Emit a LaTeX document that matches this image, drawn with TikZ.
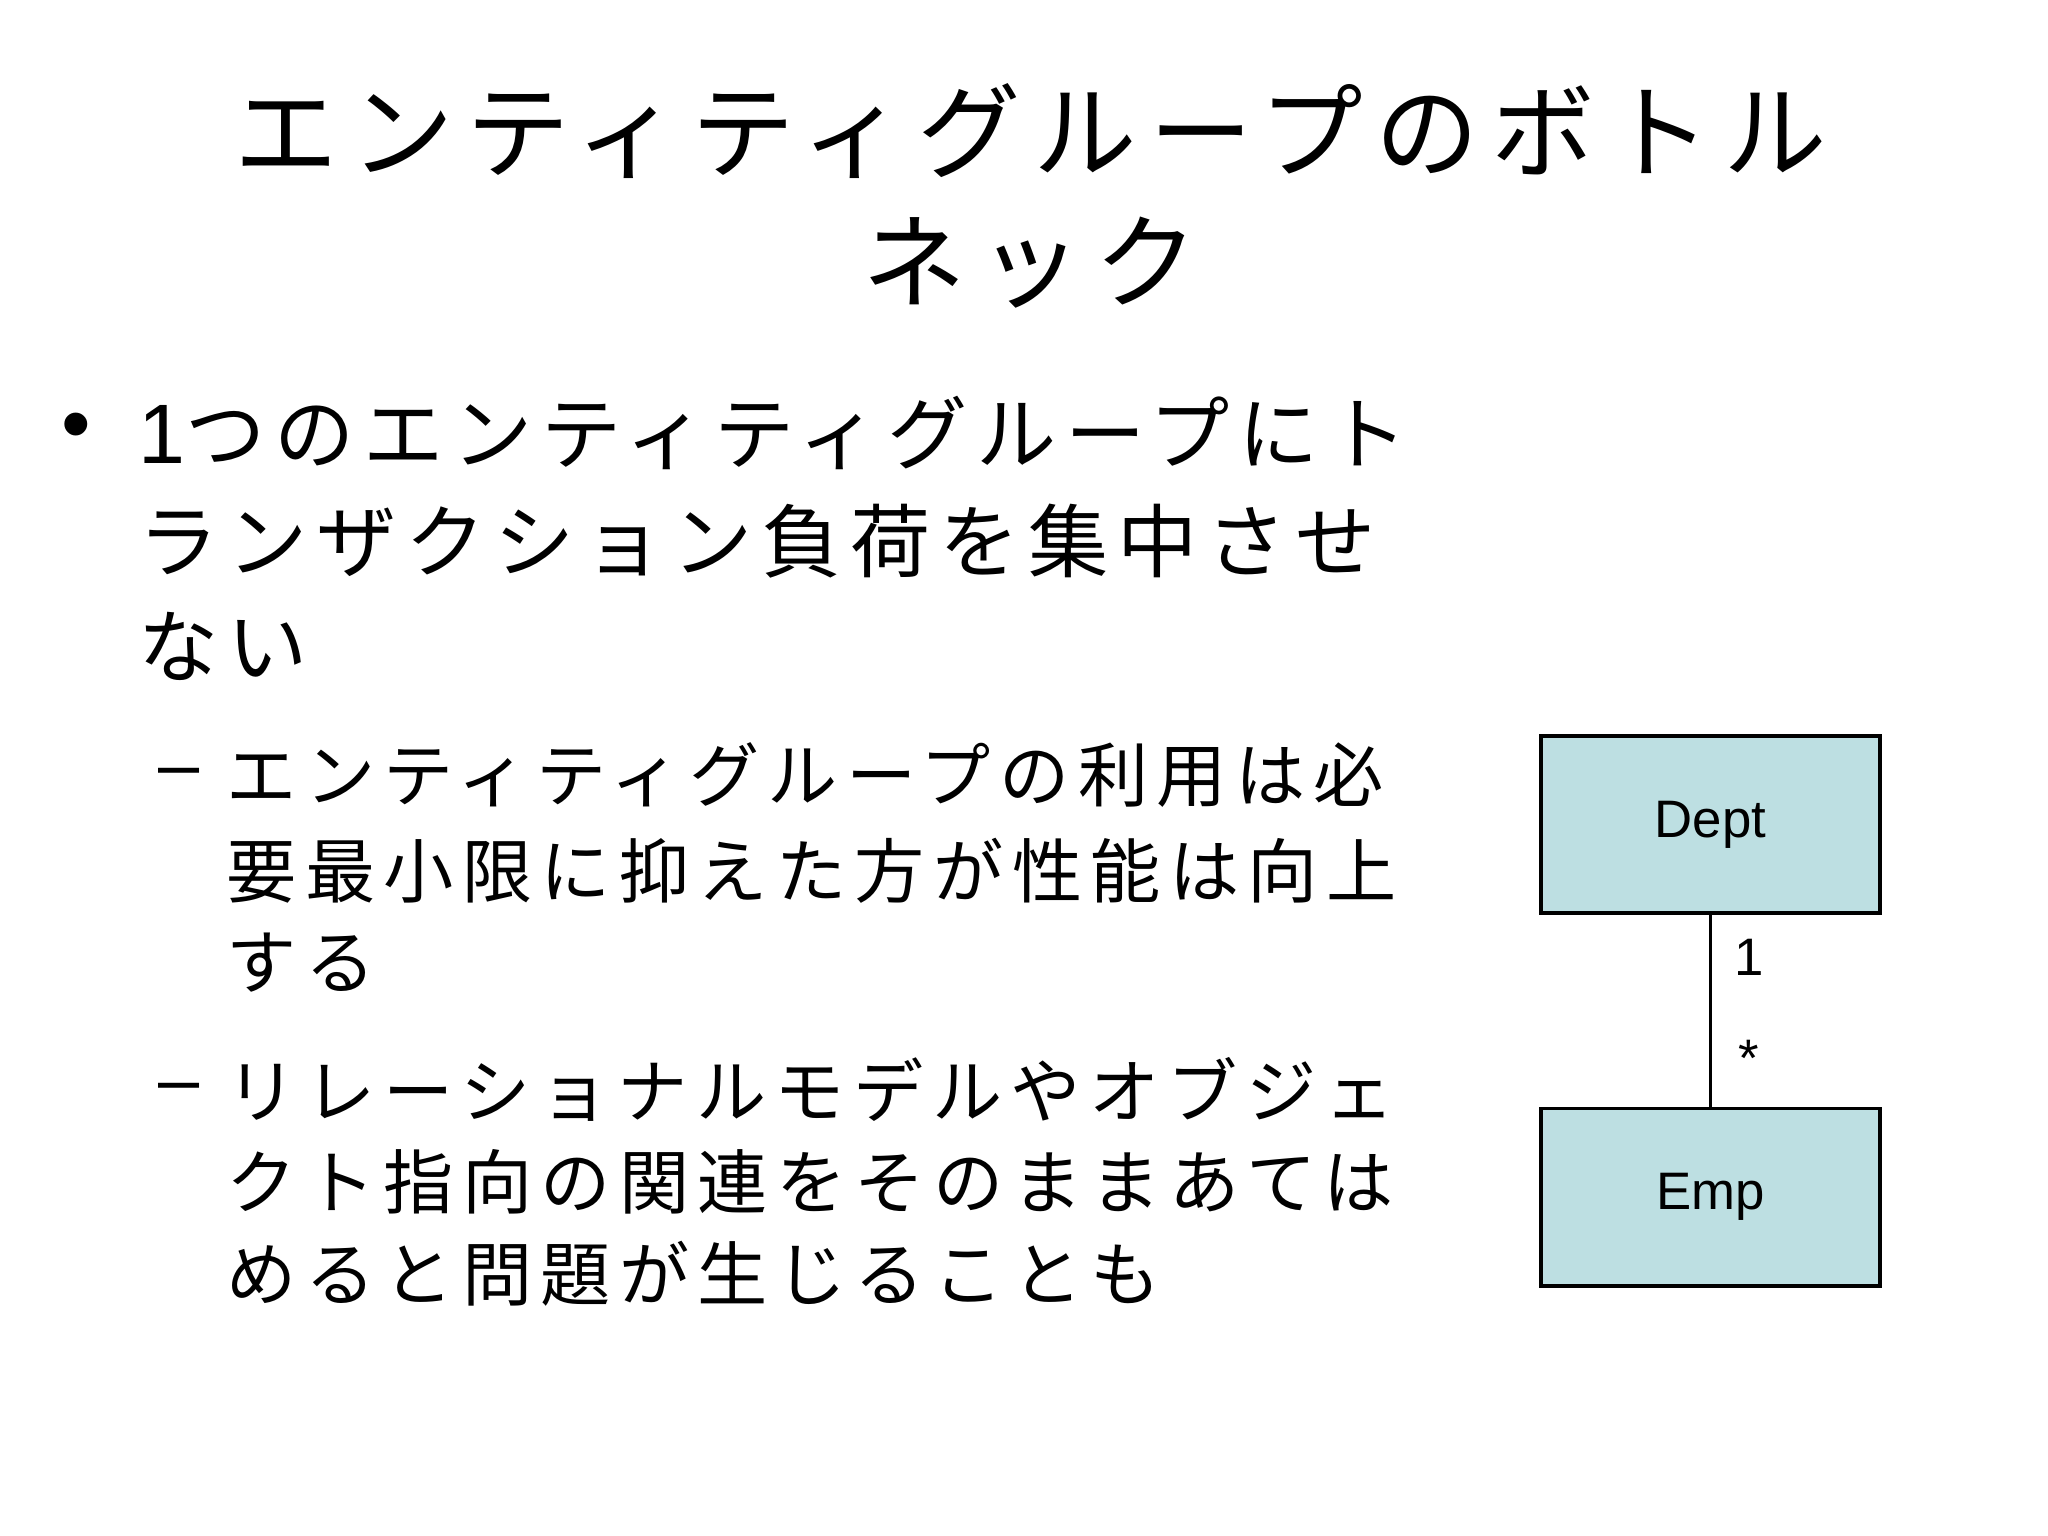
\documentclass[tikz,border=0pt]{standalone}
\usepackage{fontspec}
\setmainfont{Liberation Sans}
\newfontfamily\cjk{Noto Sans CJK JP}[Scale=0.95]
\begin{document}
\begin{tikzpicture}[x=0.013128cm,y=-0.013128cm,
  title/.style={font=\fontsize{31}{36}\selectfont\cjk\addfontfeature{LetterSpace=12}},
  lvl1/.style={anchor=west,inner sep=0,font=\fontsize{24}{28}\selectfont\cjk\addfontfeature{LetterSpace=11}},
  lvl2/.style={anchor=west,inner sep=0,font=\fontsize{21}{24}\selectfont\cjk\addfontfeature{LetterSpace=12}},
  box/.style={draw=black,fill=bx,minimum width=3.387cm,minimum height=1.772cm,inner sep=0,line width=1pt,font=\fontsize{15}{18}\selectfont},
  lbl/.style={font=\fontsize{15}{18}\selectfont,inner sep=0}]
\definecolor{bx}{HTML}{BDDFE2}
\useasboundingbox (0,0) rectangle (1560,1170);
\node[title] (t1) at (785,100) {エンティティグループのボトル};
\node[title] (t2) at (785,200) {ネック};
\node[anchor=center,inner sep=0,font=\fontsize{24}{28}\selectfont] (b1) at (58,330) {•};
\node[lvl1] (l1) at (105,330) {{\fontsize{24}{28}\selectfont\rmfamily 1}つのエンティティグループにト};
\node[lvl1] (l2) at (105,412) {ランザクション負荷を集中させ};
\node[lvl1] (l3) at (105,492) {ない};
\node[anchor=center,inner sep=0,font=\fontsize{21}{24}\selectfont] (d1) at (136,593) {–};
\node[lvl2] (s1) at (172,590) {エンティティグループの利用は必};
\node[lvl2] (s2) at (172,663) {要最小限に抑えた方が性能は向上};
\node[lvl2] (s3) at (172,733) {する};
\node[anchor=center,inner sep=0,font=\fontsize{21}{24}\selectfont] (d2) at (136,833) {–};
\node[lvl2] (s4) at (172,830) {リレーショナルモデルやオブジェ};
\node[lvl2] (s5) at (172,900) {クト指向の関連をそのままあては};
\node[lvl2] (s6) at (172,970) {めると問題が生じることも};
\node[box] (dept) at (1303,628) {Dept};
\node[box] (emp) at (1303,912) {Emp};
\draw[line width=0.8pt] (dept.south) -- (emp.north);
\node[lbl] (one) at (1332,729) {1};
\node[lbl] (star) at (1332,806) {*};
\end{tikzpicture}
\end{document}
